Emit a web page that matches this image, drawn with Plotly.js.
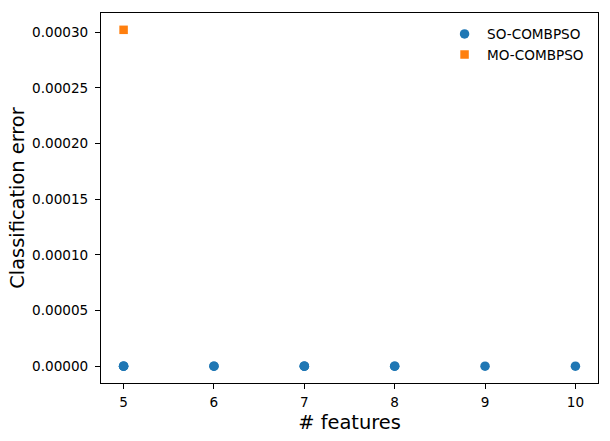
<!DOCTYPE html>
<html>
<head>
<meta charset="utf-8">
<script src="https://cdn.plot.ly/plotly-3.0.1.min.js"></script>
<style>html,body{margin:0;padding:0;background:#fff;}</style>
</head>
<body>
<div id="chart" style="width:610px;height:441px;"></div>
<script>
const soFeatures = [5, 5, 5, 6, 6, 7, 7, 7, 8, 8, 9, 10];
const soError = [0, 0, 0, 0, 0, 0, 0, 0, 0, 0, 0, 0];
const moFeatures = [5];
const moError = [0.000302];
const xTicks = [5, 6, 7, 8, 9, 10];
const yTicks = [0, 0.00005, 0.0001, 0.00015, 0.0002, 0.00025, 0.0003];

const font = {family: 'DejaVu Sans, sans-serif', color: '#000'};

const traces = [
  {x: soFeatures, y: soError, mode: 'markers', type: 'scatter', name: 'SO-COMBPSO',
   marker: {symbol: 'circle', size: 9.5, color: '#1f77b4'}},
  {x: moFeatures, y: moError, mode: 'markers', type: 'scatter', name: 'MO-COMBPSO',
   marker: {symbol: 'square', size: 8.5, color: '#ff7f0e'}}
];

const layout = {
  width: 610, height: 441,
  margin: {l: 101, r: 12, t: 13, b: 58},
  paper_bgcolor: '#fff', plot_bgcolor: '#fff',
  font: Object.assign({size: 13.6}, font),
  showlegend: true,
  legend: {x: 0.982, y: 0.985, xanchor: 'right', yanchor: 'top', bgcolor: 'rgba(0,0,0,0)',
           font: Object.assign({size: 13.6}, font), itemwidth: 35, tracegroupgap: 0},
  xaxis: {
    range: [4.75, 10.25], tickvals: xTicks, ticktext: xTicks.map(String),
    showgrid: false, zeroline: false, showline: true, mirror: true,
    linecolor: '#000', linewidth: 1, ticks: 'outside', ticklen: 5, tickcolor: '#000',
    tickfont: Object.assign({size: 13.6}, font), ticklabelstandoff: 2,
    title: {text: '# features', font: Object.assign({size: 19.4}, font), standoff: 6}
  },
  yaxis: {
    range: [-0.0000151, 0.0003171], tickvals: yTicks, tickformat: '.5f',
    showgrid: false, zeroline: false, showline: true, mirror: true,
    linecolor: '#000', linewidth: 1, ticks: 'outside', ticklen: 5, tickcolor: '#000',
    tickfont: Object.assign({size: 13.6}, font), ticklabelstandoff: 4,
    title: {text: 'Classification error', font: Object.assign({size: 19.4}, font), standoff: 2}
  }
};

Plotly.newPlot('chart', traces, layout, {displayModeBar: false, staticPlot: true});
</script>
</body>
</html>
